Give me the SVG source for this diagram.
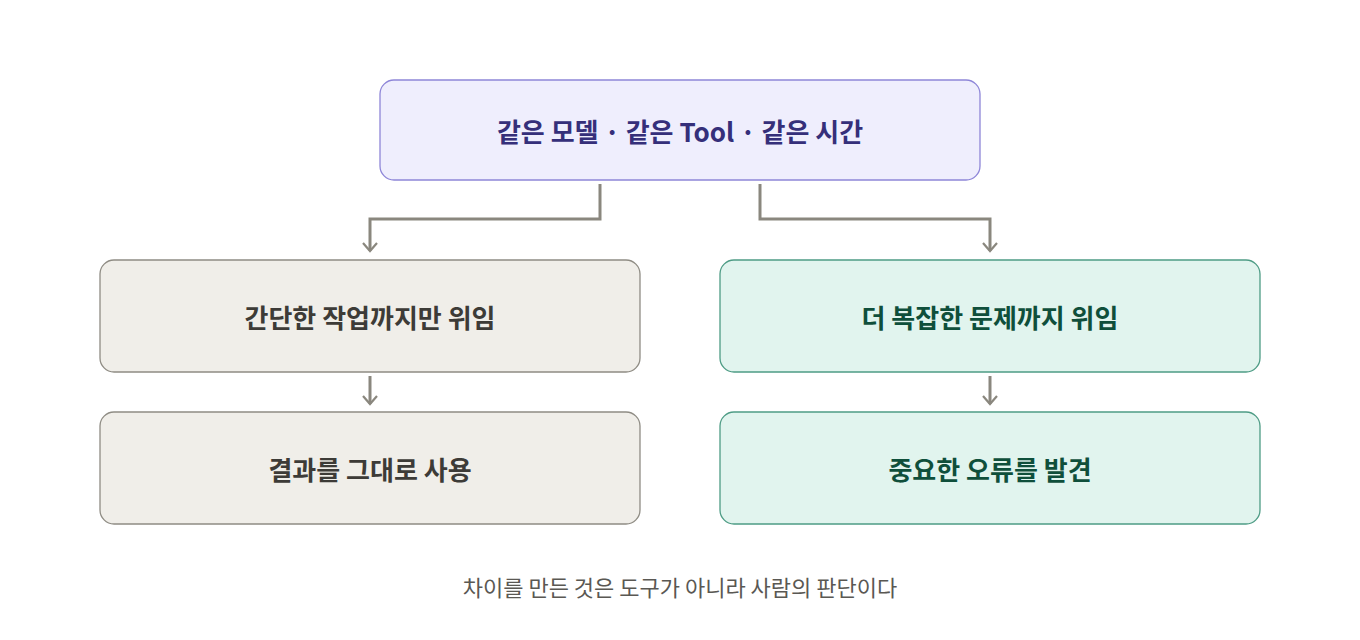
<svg xmlns="http://www.w3.org/2000/svg" width="1360" height="640" viewBox="0 0 1360 640">
<defs>
<marker id="ah" viewBox="0 0 16 16" refX="14" refY="8" markerWidth="16" markerHeight="16" markerUnits="userSpaceOnUse" orient="auto">
<path d="M6 1 L14 8 L6 15" fill="none" stroke="#8a877e" stroke-width="2.2"/>
</marker>
<style>
text{font-family:"Noto Sans CJK KR","Noto Sans",sans-serif;text-anchor:middle;dominant-baseline:central}
.t{font-size:26px;font-weight:600}
.c{fill:none;stroke:#8a877e;stroke-width:3;marker-end:url(#ah)}
.g rect{fill:#f0eee9;stroke:#8f8c84;stroke-width:1.3}
.g text{fill:#3d3b37}
.m rect{fill:#e1f4ee;stroke:#4e9c85;stroke-width:1.3}
.m text{fill:#0f4f3b}
</style>
</defs>
<rect width="1360" height="640" fill="#fff"/>
<g id="top"><rect x="380" y="80" width="600" height="100" rx="14" fill="#efeefd" stroke="#8e86d8" stroke-width="1.3"/><text class="t" x="680" y="130" fill="#352f7a">같은 모델 · 같은 Tool · 같은 시간</text></g>
<g id="connectors">
<path class="c" d="M600 184 V219 H370 V251"/>
<path class="c" d="M760 184 V219 H990 V251"/>
<path class="c" d="M370 376 V404"/>
<path class="c" d="M990 376 V404"/>
</g>
<g id="n1" class="g"><rect x="100" y="260" width="540" height="112" rx="14"/><text class="t" x="370" y="316">간단한 작업까지만 위임</text></g>
<g id="n2" class="g"><rect x="100" y="412" width="540" height="112" rx="14"/><text class="t" x="370" y="468">결과를 그대로 사용</text></g>
<g id="n3" class="m"><rect x="720" y="260" width="540" height="112" rx="14"/><text class="t" x="990" y="316">더 복잡한 문제까지 위임</text></g>
<g id="n4" class="m"><rect x="720" y="412" width="540" height="112" rx="14"/><text class="t" x="990" y="468">중요한 오류를 발견</text></g>
<text id="footer" x="680" y="586" font-size="22" fill="#5a5853">차이를 만든 것은 도구가 아니라 사람의 판단이다</text>
</svg>
